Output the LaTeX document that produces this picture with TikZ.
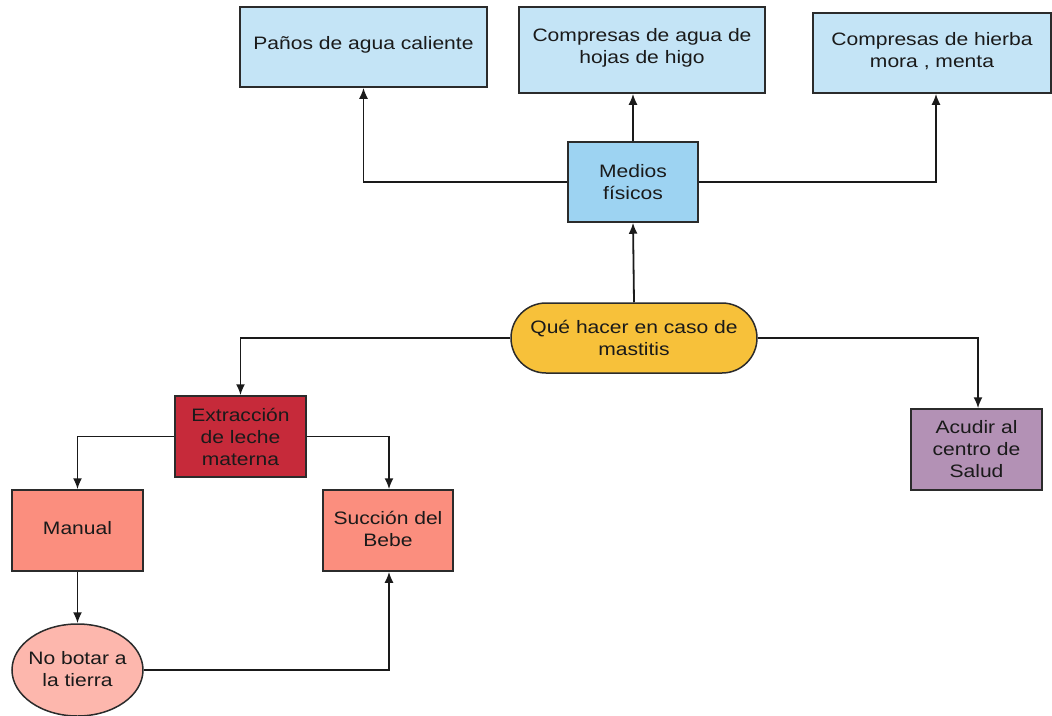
\documentclass[tikz,border=0pt]{standalone}
\usepackage{fontspec}
\setmainfont{Liberation Sans}[FakeStretch=1.17]
\usetikzlibrary{arrows.meta,shapes.geometric}
\definecolor{paleblue}{HTML}{C4E4F6}
\definecolor{midblue}{HTML}{9DD3F2}
\definecolor{gold}{HTML}{F7C13A}
\definecolor{darkred}{HTML}{C62A3A}
\definecolor{salmon}{HTML}{FB8E7E}
\definecolor{blush}{HTML}{FDB7AD}
\definecolor{mauve}{HTML}{B391B5}
\definecolor{ink}{HTML}{1A1A1A}
\definecolor{edge}{HTML}{2B2B2B}
\tikzset{
  txt/.style={inner sep=0pt, align=center, text=ink, font=\fontsize{18}{22}\selectfont},
  box/.style={txt, draw=edge, line width=1.5pt, rectangle},
  arr/.style={draw=ink, line width=1.8pt, -{Latex[length=11pt,width=9pt]}}
}
\begin{document}
\begin{tikzpicture}[x=1pt,y=-1pt]
\useasboundingbox (0,0) rectangle (1052,715);

% remedies with physical means
\node[box, fill=paleblue, minimum width=247pt, minimum height=80pt] (panos) at (363.5,47) {};
\node[txt] (panostxt) at (363.5,45) {Paños de agua caliente};
\node[box, fill=paleblue, minimum width=246pt, minimum height=86pt] (higo) at (642,50) {};
\node[txt] (higotxt) at (642,48) {Compresas de agua de\\hojas de higo};
\node[box, fill=paleblue, minimum width=238pt, minimum height=80pt] (hierba) at (932,53) {};
\node[txt] (hierbatxt) at (932,51.5) {Compresas de hierba\\mora , menta};
\node[box, fill=midblue, minimum width=130pt, minimum height=80pt] (medios) at (633,182) {Medios\\físicos};

% central question
\node[box, fill=gold, minimum width=246pt, minimum height=70pt, rounded corners=35pt] (mast) at (634,338) {Qué hacer en caso de\\mastitis};

% milk extraction branch
\node[box, fill=darkred, minimum width=131pt, minimum height=81pt] (extr) at (240.5,436.5) {Extracción\\de leche\\materna};
\node[box, fill=salmon, minimum width=131pt, minimum height=81pt] (manual) at (77.5,530.5) {};
\node[txt] (manualtxt) at (77.5,528) {Manual};
\node[box, fill=salmon, minimum width=130pt, minimum height=81pt] (succ) at (388,530.5) {};
\node[txt] (succtxt) at (388,529) {Succión del\\Bebe};
\node[box, ellipse, fill=blush, minimum width=131pt, minimum height=92pt] (tierra) at (77.5,670) {};
\node[txt] (tierratxt) at (77.5,669) {No botar a\\la tierra};

% health centre
\node[box, fill=mauve, minimum width=131pt, minimum height=81pt] (salud) at (976.5,449.5) {Acudir al\\centro de\\Salud};

% connectors
\draw[arr] (medios.north) -- (medios.north |- higo.south);
\draw[arr] (medios.west) -| (panos.south);
\draw[arr] (medios.east) -| ([xshift=4pt]hierba.south);
\draw[arr] (mast.north) -- (medios.south);
\draw[arr] (mast.west) -| (extr.north);
\draw[arr] (mast.east) -| ([xshift=1.5pt]salud.north);
\draw[arr] (extr.west) -| (manual.north);
\draw[arr] (extr.east) -| ([xshift=1pt]succ.north);
\draw[arr] (manual.south) -- (tierra.north);
\draw[arr] (tierra.east) -| ([xshift=1pt]succ.south);
\end{tikzpicture}
\end{document}
